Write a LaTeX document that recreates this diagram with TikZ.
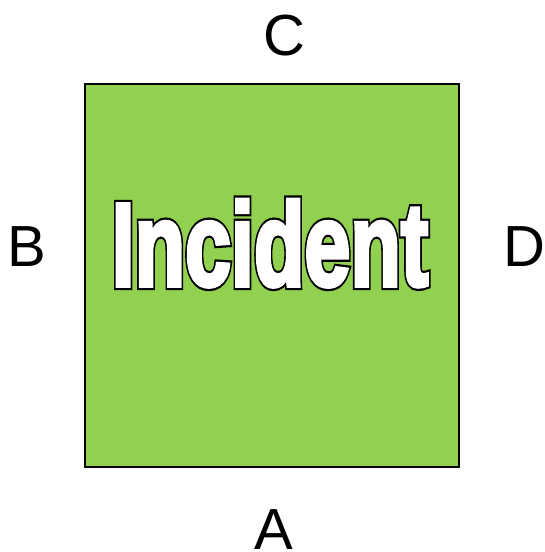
\documentclass[tikz,border=0pt]{standalone}
\usepackage{fontspec}
\setmainfont{Liberation Sans}
\newfontfamily\titlefont{Liberation Sans Bold}
\definecolor{boxgreen}{HTML}{92D050}
\newcommand{\strokedtext}[3]{\special{pdf:literal direct 2 Tr #1 w #2 G}#3\special{pdf:literal direct 0 Tr}}
\begin{document}
\begin{tikzpicture}[x=1pt,y=-1pt,
  lab/.style={anchor=base,inner sep=0pt,font=\fontsize{58}{58}\selectfont},
  titlestyle/.style={anchor=base,inner sep=0pt,xscale=0.70,font=\titlefont\fontsize{118}{118}\selectfont}]
\useasboundingbox (0,0) rectangle (544,552);
\node[draw=black,line width=1.5pt,fill=boxgreen,minimum width=374pt,minimum height=383pt,inner sep=0pt] (box) at (272,275.5) {};
\node[titlestyle,text=black] (titleback) at (270,285.5) {\strokedtext{9}{0}{Incident}};
\node[titlestyle,text=white] (title) at (270,285.5) {\strokedtext{4.5}{1}{Incident}};
\node[lab] (c) at (284,55) {C};
\node[lab] (b) at (27,266) {B};
\node[lab] (d) at (524,266) {D};
\node[lab] (a) at (274,549) {A};
\end{tikzpicture}
\end{document}
